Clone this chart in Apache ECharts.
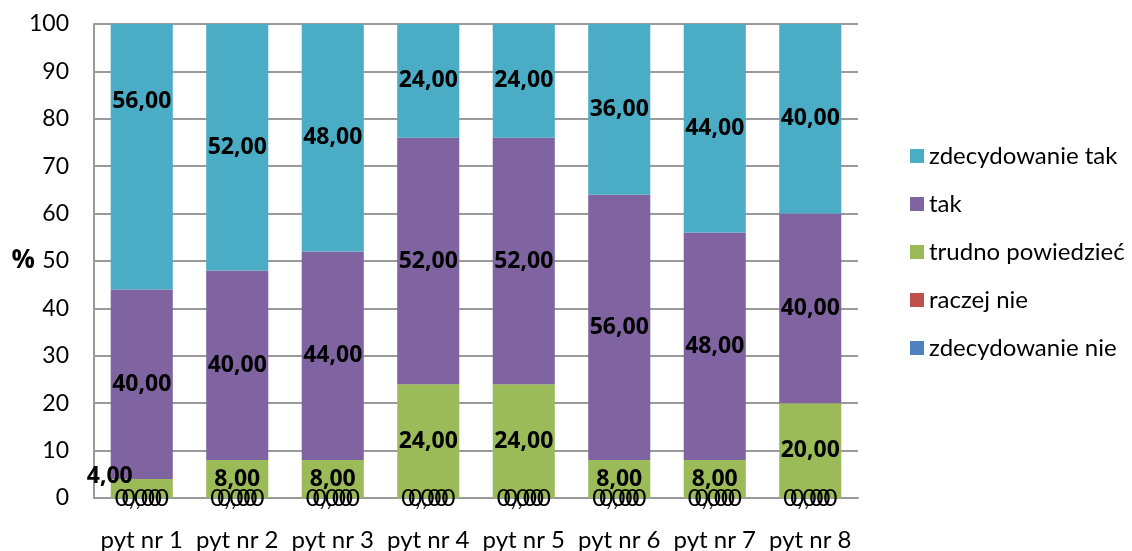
<!DOCTYPE html>
<html>
<head>
<meta charset="utf-8">
<script src="https://cdn.jsdelivr.net/npm/echarts@6/dist/echarts.min.js"></script>
<style>html,body{margin:0;padding:0;background:#fff}#c{width:1132px;height:551px}</style>
</head>
<body>
<div id="c"></div>
<script>
const categories = ['pyt nr 1','pyt nr 2','pyt nr 3','pyt nr 4','pyt nr 5','pyt nr 6','pyt nr 7','pyt nr 8'];
const zdecydowanieNie = [0,0,0,0,0,0,0,0];
const raczejNie = [0,0,0,0,0,0,0,0];
const trudno = [4,8,8,24,24,8,8,20];
const tak = [40,40,44,52,52,56,48,40];
const zdecydowanieTak = [56,52,48,24,24,36,44,40];
const yTicks = [0,10,20,30,40,50,60,70,80,90,100];

const FONT = 'Lato';
const BOLDFONT = 'Open Sans';
const fmt = p => p.value.toFixed(2).replace('.', ',');
const boldLabel = {show:true, position:'inside', color:'#000', fontFamily:BOLDFONT, fontWeight:'bold', fontSize:23, formatter:fmt};
const zeroLabel = (dx) => ({show:true, position:'inside', color:'#000', fontFamily:FONT, fontWeight:'normal', fontSize:24, formatter:fmt, offset:[dx,0]});

function withSpecial(arr, idx, labelExtra) {
  return arr.map((v,i) => i === idx ? {value:v, label:labelExtra} : v);
}

const chart = echarts.init(document.getElementById('c'), null, {renderer:'canvas'});
chart.setOption({
  animation:false,
  backgroundColor:'#fff',
  grid:{left:94, right:274, top:24, bottom:53, containLabel:false, outerBoundsMode:'none'},
  legend:{
    orient:'vertical', left:905, top:139, itemGap:24, itemWidth:14, itemHeight:14,
    icon:'rect',
    textStyle:{fontFamily:FONT, fontSize:24, color:'#000'},
    data:['zdecydowanie tak','tak','trudno powiedzieć','raczej nie','zdecydowanie nie']
  },
  xAxis:{
    type:'category', data:categories,
    axisLine:{lineStyle:{color:'#9a9a9a', width:2}},
    axisTick:{show:false},
    axisLabel:{color:'#000', fontFamily:FONT, fontSize:24, margin:30, interval:0}
  },
  yAxis:{
    type:'value', min:0, max:100, interval:10,
    name:'%', nameLocation:'middle', nameRotate:0, nameGap:59, nameMoveOverlap:false,
    nameTextStyle:{color:'#000', fontFamily:BOLDFONT, fontSize:26, fontWeight:'bold', align:'right', verticalAlign:'middle'},
    axisLine:{show:true, lineStyle:{color:'#9a9a9a', width:2}},
    axisTick:{show:false},
    splitLine:{lineStyle:{color:'#9a9a9a', width:2}},
    axisLabel:{color:'#000', fontFamily:FONT, fontSize:23, margin:25,
      formatter: v => yTicks.includes(v) ? String(v) : ''}
  },
  series:[
    {name:'zdecydowanie nie', type:'bar', stack:'s', barWidth:'65%', itemStyle:{color:'#4F81BD'}, label:zeroLabel(-3.5), data:zdecydowanieNie},
    {name:'raczej nie', type:'bar', stack:'s', itemStyle:{color:'#C0504D'}, label:zeroLabel(3.5), data:raczejNie},
    {name:'trudno powiedzieć', type:'bar', stack:'s', itemStyle:{color:'#9BBB59'}, label:boldLabel,
      data:withSpecial(trudno, 0, {offset:[-32,-12]})},
    {name:'tak', type:'bar', stack:'s', itemStyle:{color:'#8064A2'}, label:boldLabel, data:tak},
    {name:'zdecydowanie tak', type:'bar', stack:'s', itemStyle:{color:'#4BACC6'}, label:boldLabel,
      data:withSpecial(zdecydowanieTak, 0, {offset:[0,-55]})}
  ]
});
</script>
</body>
</html>
